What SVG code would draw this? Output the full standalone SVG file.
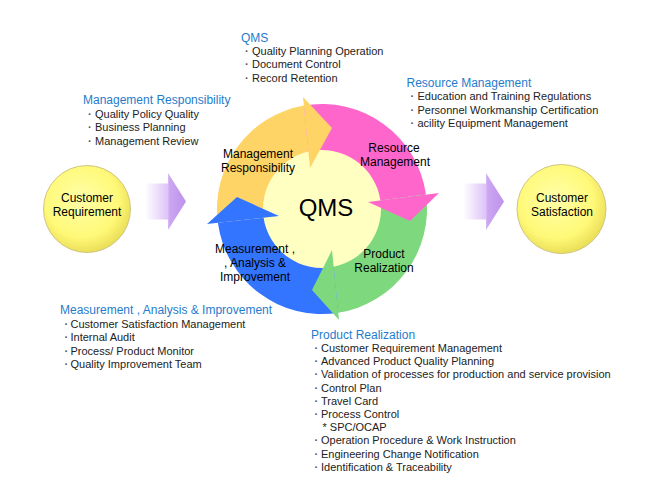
<svg xmlns="http://www.w3.org/2000/svg" width="650" height="500" viewBox="0 0 650 500">
<defs>
  <radialGradient id="ball" cx="0.45" cy="0.42" r="0.6" fx="0.42" fy="0.38">
    <stop offset="0" stop-color="#FFFFA8"/>
    <stop offset="0.7" stop-color="#FFF978"/>
    <stop offset="1" stop-color="#E9DC55"/>
  </radialGradient>
  <linearGradient id="flow" x1="0" y1="0" x2="1" y2="0">
    <stop offset="0" stop-color="#FFFFFF"/>
    <stop offset="0.55" stop-color="#DEC4F8"/>
    <stop offset="0.6" stop-color="#CCA6F2"/>
    <stop offset="1" stop-color="#BC92EA"/>
  </linearGradient>
  <style>
    .lbl{font-family:"Liberation Sans",Arial,sans-serif;font-size:12px;fill:#000;text-anchor:middle}
    .hd{font-family:"Liberation Sans",Arial,sans-serif;font-size:12px;fill:#1F7CCC}
    .it{font-family:"Liberation Sans",Arial,sans-serif;font-size:11px;fill:#222}
    .bu{font-weight:bold;fill:#555}
    .ball{fill:url(#ball);stroke:#CFC583;stroke-width:1}
    .flow{fill:url(#flow)}
  </style>
</defs>
<rect width="650" height="500" fill="#FFFFFF"/>

<g id="connectors">
  <path class="flow" d="M145,183.5 H168 V173 L186,201.5 L168,230 V219.5 H145 Z"/>
  <path class="flow" d="M463,183.5 H486 V173 L504,201.5 L486,230 V219.5 H463 Z"/>
</g>

<g id="customer-requirement">
  <circle class="ball" cx="87" cy="209" r="43.5"/>
  <text class="lbl" x="87" y="202">Customer</text>
  <text class="lbl" x="87" y="216">Requirement</text>
</g>

<g id="customer-satisfaction">
  <circle class="ball" cx="561.5" cy="209" r="44.5"/>
  <text class="lbl" x="562" y="202">Customer</text>
  <text class="lbl" x="562" y="216">Satisfaction</text>
</g>

<g id="qms-cycle">
  <circle cx="322" cy="209" r="59.5" fill="#FFFFC2"/>
  <g id="seg-management">
    <path fill="#FFD466" d="M217.9,222.8 A105,105 0 0 1 303.85,105.58 L308.4,151.6 A59,59 0 0 0 263.6,217.7 Z"/>
  </g>
  <g id="seg-resource">
    <path fill="#FF66CC" d="M303.85,105.58 A105,105 0 0 1 426,194.6 L380.4,200.4 A59,59 0 0 0 308.4,151.6 Z"/>
  </g>
  <g id="seg-product">
    <path fill="#7ED97E" d="M426,194.6 A105,105 0 0 1 338.27,312.73 L333.7,266.8 A59,59 0 0 0 380.4,200.4 Z"/>
  </g>
  <g id="seg-measurement">
    <path fill="#3375FF" d="M338.27,312.73 A105,105 0 0 1 217.9,222.8 L263.6,217.7 A59,59 0 0 0 333.7,266.8 Z"/>
  </g>
  <polygon fill="#FFD466" points="303,97 332,128 310,168"/>
  <polygon fill="#FF66CC" points="439,193 410,221 368,202"/>
  <polygon fill="#7ED97E" points="339,320 312,290 332,250"/>
  <polygon fill="#3375FF" points="207,224 237,197 279,216"/>
  <text class="lbl" x="258" y="158">Management</text>
  <text class="lbl" x="258" y="172">Responsibility</text>
  <text class="lbl" x="394" y="152">Resource</text>
  <text class="lbl" x="395" y="166">Management</text>
  <text class="lbl" x="326" y="216" style="font-size:24px">QMS</text>
  <text class="lbl" x="384" y="258">Product</text>
  <text class="lbl" x="384" y="272">Realization</text>
  <text class="lbl" x="255" y="253">Measurement ,</text>
  <text class="lbl" x="255" y="267">, Analysis &amp;</text>
  <text class="lbl" x="255" y="281">Improvement</text>
</g>

<g id="note-qms">
  <text class="hd" x="241" y="42">QMS</text>
  <text class="it" y="54.5"><tspan class="bu" x="245">·</tspan><tspan x="252">Quality Planning Operation</tspan></text>
  <text class="it" y="68"><tspan class="bu" x="245">·</tspan><tspan x="252">Document Control</tspan></text>
  <text class="it" y="81.5"><tspan class="bu" x="245">·</tspan><tspan x="252">Record Retention</tspan></text>
</g>

<g id="note-resource">
  <text class="hd" x="406.5" y="87">Resource Management</text>
  <text class="it" y="100"><tspan class="bu" x="410.5">·</tspan><tspan x="417.5">Education and Training Regulations</tspan></text>
  <text class="it" y="113.5"><tspan class="bu" x="410.5">·</tspan><tspan x="417.5">Personnel Workmanship Certification</tspan></text>
  <text class="it" y="127"><tspan class="bu" x="410.5">·</tspan><tspan x="417.5">acility Equipment Management</tspan></text>
</g>

<g id="note-management">
  <text class="hd" x="83" y="104">Management Responsibility</text>
  <text class="it" y="117.5"><tspan class="bu" x="88">·</tspan><tspan x="95">Quality Policy Quality</tspan></text>
  <text class="it" y="131"><tspan class="bu" x="88">·</tspan><tspan x="95">Business Planning</tspan></text>
  <text class="it" y="144.5"><tspan class="bu" x="88">·</tspan><tspan x="95">Management Review</tspan></text>
</g>

<g id="note-measurement">
  <text class="hd" x="60" y="314">Measurement , Analysis &amp; Improvement</text>
  <text class="it" y="327.5"><tspan class="bu" x="64.5">·</tspan><tspan x="70.5">Customer Satisfaction Management</tspan></text>
  <text class="it" y="341"><tspan class="bu" x="64.5">·</tspan><tspan x="70.5">Internal Audit</tspan></text>
  <text class="it" y="354.5"><tspan class="bu" x="64.5">·</tspan><tspan x="70.5">Process/ Product Monitor</tspan></text>
  <text class="it" y="368"><tspan class="bu" x="64.5">·</tspan><tspan x="70.5">Quality Improvement Team</tspan></text>
</g>

<g id="note-product">
  <text class="hd" x="311" y="338.5">Product Realization</text>
  <text class="it" y="351.7"><tspan class="bu" x="314.5">·</tspan><tspan x="321">Customer Requirement Management</tspan></text>
  <text class="it" y="365"><tspan class="bu" x="314.5">·</tspan><tspan x="321">Advanced Product Quality Planning</tspan></text>
  <text class="it" y="378.3"><tspan class="bu" x="314.5">·</tspan><tspan x="321">Validation of processes for production and service provision</tspan></text>
  <text class="it" y="391.7"><tspan class="bu" x="314.5">·</tspan><tspan x="321">Control Plan</tspan></text>
  <text class="it" y="405"><tspan class="bu" x="314.5">·</tspan><tspan x="321">Travel Card</tspan></text>
  <text class="it" y="418"><tspan class="bu" x="314.5">·</tspan><tspan x="321">Process Control</tspan></text>
  <text class="it" x="322.5" y="431">* SPC/OCAP</text>
  <text class="it" y="444.3"><tspan class="bu" x="314.5">·</tspan><tspan x="321">Operation Procedure &amp; Work Instruction</tspan></text>
  <text class="it" y="457.7"><tspan class="bu" x="314.5">·</tspan><tspan x="321">Engineering Change Notification</tspan></text>
  <text class="it" y="471"><tspan class="bu" x="314.5">·</tspan><tspan x="321">Identification &amp; Traceability</tspan></text>
</g>
</svg>
